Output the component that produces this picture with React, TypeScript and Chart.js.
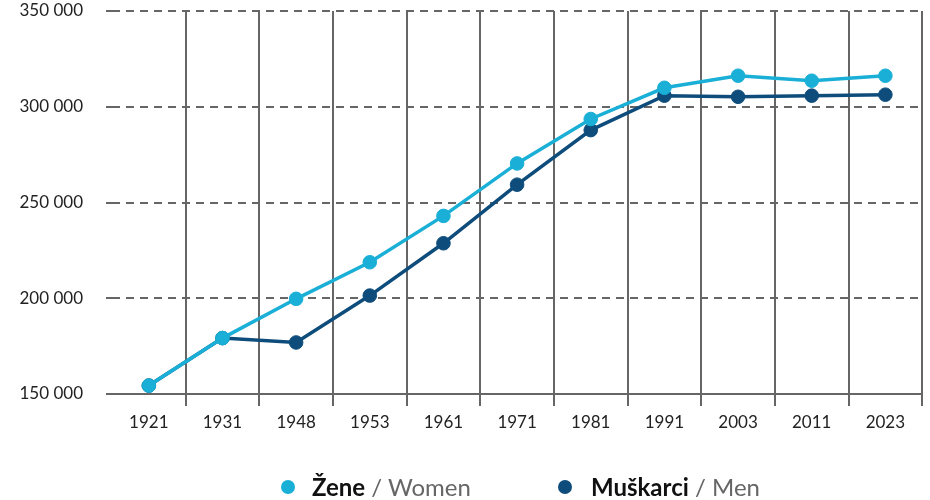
import React, { useEffect, useRef } from "react";
import { Chart, registerables } from "chart.js";

Chart.register(...registerables);

const years = ["1921", "1931", "1948", "1953", "1961", "1971", "1981", "1991", "2003", "2011", "2023"];
const women = [154400, 179200, 199700, 218800, 243000, 270400, 293600, 309900, 316200, 313600, 316200];
const men = [154400, 179200, 176900, 201400, 228700, 259300, 287800, 305800, 305200, 305800, 306300];
const yTicks = [150000, 200000, 250000, 300000, 350000];

const WOMEN_COLOR = "#1AAFD6";
const MEN_COLOR = "#0E4D7B";
const GRID = "#666666";

const fmt = (v: number) => {
  const s = Math.round(v).toString();
  return s.replace(/\B(?=(\d{3})+(?!\d))/g, " ");
};

export default function App() {
  const ref = useRef<HTMLCanvasElement | null>(null);

  useEffect(() => {
    document.body.style.margin = "0";
    if (!ref.current) return;
    const chart = new Chart(ref.current, {
      type: "line",
      data: {
        labels: years,
        datasets: [
          {
            label: "Žene / Women",
            data: women,
            borderColor: WOMEN_COLOR,
            backgroundColor: WOMEN_COLOR,
            pointBackgroundColor: WOMEN_COLOR,
            pointBorderColor: WOMEN_COLOR,
            borderWidth: 3.5,
            pointRadius: 6.8,
            pointBorderWidth: 1,
            tension: 0,
          },
          {
            label: "Muškarci / Men",
            data: men,
            borderColor: MEN_COLOR,
            backgroundColor: MEN_COLOR,
            pointBackgroundColor: MEN_COLOR,
            pointBorderColor: MEN_COLOR,
            borderWidth: 3.5,
            pointRadius: 6.8,
            pointBorderWidth: 1,
            tension: 0,
          },
        ],
      },
      options: {
        responsive: false,
        animation: false,
        layout: { padding: { top: 11, right: 5, left: 0, bottom: 0 } },
        plugins: { legend: { display: false }, tooltip: { enabled: false } },
        scales: {
          x: {
            offset: true,
            grid: {
              offset: true,
              color: (ctx: any) => (ctx.index === 0 ? "rgba(0,0,0,0)" : GRID),
              lineWidth: 2,
              tickLength: 12,
              drawTicks: true,
            },
            border: { display: true, color: GRID, width: 2 },
            ticks: {
              color: "#222",
              font: { family: "Lato", size: 17 },
              padding: 6,
              maxRotation: 0,
            },
            afterFit: (scale: any) => {
              scale.height = 106;
              scale.paddingLeft = 0;
              scale.paddingRight = 0;
            },
          },
          y: {
            min: 150000,
            max: 350000,
            afterBuildTicks: (scale: any) => {
              scale.ticks = yTicks.map((v) => ({ value: v }));
            },
            grid: {
              color: GRID,
              lineWidth: 2,
              tickLength: 6,
            },
            border: { display: false, dash: [8, 6] },
            ticks: {
              color: "#222",
              font: { family: "Lato", size: 17 },
              padding: 23,
              callback: (v: any) => fmt(Number(v)),
            },
            afterFit: (scale: any) => {
              scale.width = 112;
              scale.paddingTop = 0;
              scale.paddingBottom = 0;
            },
          },
        },
      },
    } as any);
    return () => chart.destroy();
  }, []);

  const dot = (c: string): React.CSSProperties => ({
    position: "absolute",
    width: 14,
    height: 14,
    borderRadius: "50%",
    background: c,
  });
  const txt: React.CSSProperties = {
    position: "absolute",
    fontFamily: "Lato",
    fontSize: 24,
    lineHeight: "26px",
    whiteSpace: "nowrap",
  };

  return (
    <div style={{ position: "absolute", left: 0, top: 0, width: 930, height: 500, background: "#fff" }}>
      <canvas ref={ref} width={930} height={500} style={{ position: "absolute", left: 0, top: 0 }} />
      <div style={{ ...dot(WOMEN_COLOR), left: 281, top: 480 }} />
      <div style={{ ...txt, left: 312, top: 474 }}>
        <span style={{ fontWeight: 700, color: "#111" }}>Žene</span>
        <span style={{ color: "#666" }}> / Women</span>
      </div>
      <div style={{ ...dot(MEN_COLOR), left: 558, top: 480 }} />
      <div style={{ ...txt, left: 591, top: 474 }}>
        <span style={{ fontWeight: 700, color: "#111" }}>Muškarci</span>
        <span style={{ color: "#666" }}> / Men</span>
      </div>
    </div>
  );
}
